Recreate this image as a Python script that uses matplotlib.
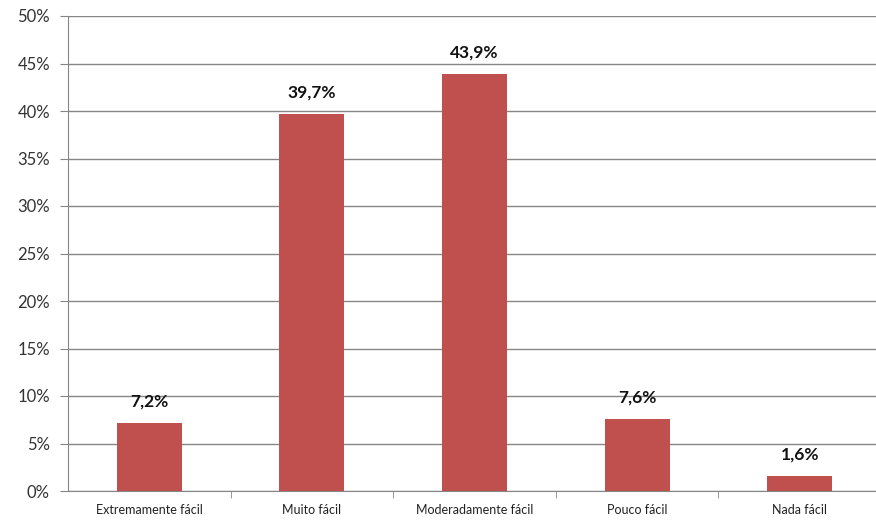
import matplotlib.pyplot as plt
import numpy as np

categorias = ["Extremamente fácil", "Muito fácil", "Moderadamente fácil", "Pouco fácil", "Nada fácil"]
valores = [7.2, 39.7, 43.9, 7.6, 1.6]
rotulos = ["7,2%", "39,7%", "43,9%", "7,6%", "1,6%"]
yticks = [0, 5, 10, 15, 20, 25, 30, 35, 40, 45, 50]

plt.rcParams['font.family'] = ['Lato', 'DejaVu Sans']

fig = plt.figure(figsize=(8.76, 5.25), dpi=100)
ax = fig.add_axes([68/876, 34/525, (876-68)/876, 475/525])

x = np.arange(len(categorias))
cinza = '#868686'
ax.set_axisbelow(True)
ax.yaxis.grid(True, color=cinza, linewidth=1)
ax.bar(x, valores, width=0.4, color='#C0504D')

for xi, v, r in zip(x, valores, rotulos):
    ax.text(xi, v + 1.4, r, ha='center', va='bottom', fontsize=12.5, fontweight='bold', color='#111111')

ax.set_ylim(0, 50)
ax.set_xlim(-0.5, 4.5 - 5/162.5)
ax.set_yticks(yticks)
ax.set_yticklabels([f"{t}%" for t in yticks], fontsize=12, color='#333333')
ax.set_xticks(x)
ax.set_xticklabels(categorias, fontsize=9, color='#222222')
ax.tick_params(axis='x', length=0, pad=9)
ax.set_xticks(np.arange(0.5, 4.5, 1), minor=True)
ax.tick_params(axis='x', which='minor', length=5, color=cinza)
ax.tick_params(axis='y', length=6, color=cinza, pad=7)

for s in ['top', 'right']:
    ax.spines[s].set_visible(False)
ax.spines['left'].set_color(cinza)
ax.spines['bottom'].set_color(cinza)

fig.savefig('out.png', dpi=100)
